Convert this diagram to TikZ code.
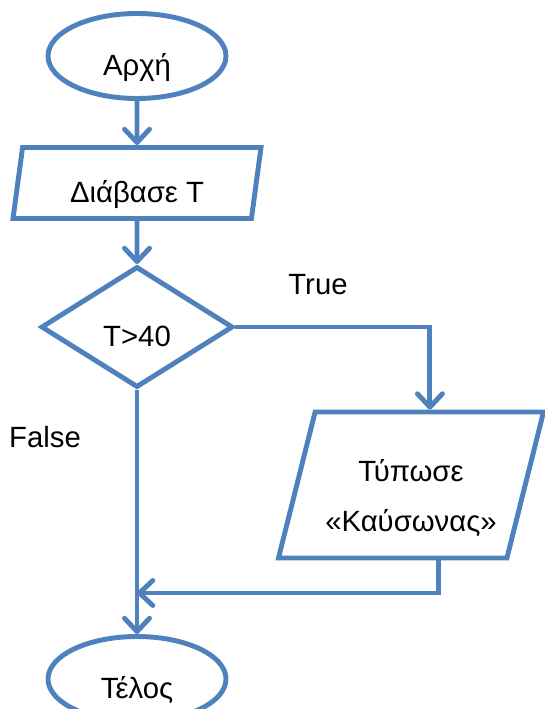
\documentclass[tikz,border=0pt]{standalone}
\usepackage{fontspec}
\setmainfont{Liberation Sans}
\usetikzlibrary{shapes.geometric,arrows.meta,calc}
\definecolor{flowblue}{RGB}{79,129,189}

\begin{document}
\begin{tikzpicture}[x=0.03cm, y=-0.03cm,
  base/.style={draw=flowblue, line width=4.2pt, fill=white, inner sep=0pt, font=\fontsize{25}{43}\selectfont, text height=1.15cm, text depth=0pt},
  term/.style={base, ellipse, minimum width=5.34cm, minimum height=2.55cm},
  io/.style={base, trapezium, trapezium left angle=76, trapezium right angle=104, trapezium stretches body},
  cond/.style={base, diamond, minimum width=5.76cm, minimum height=3.63cm},
  arr/.style={draw=flowblue, line width=4.2pt, -{Straight Barb[length=0.4cm,width=0.75cm,round]}},
  lbl/.style={font=\fontsize{25}{30}\selectfont},
]
\useasboundingbox (0,0) rectangle (545,709);

% main column
\node[term] (start) at (137,56) {Αρχή};
\node[io, minimum width=7.44cm, minimum height=2.13cm] (read) at (137,183) {Διάβασε Τ};
\node[cond] (test) at (137,327) {Τ>40};
\node[term] (stop) at (137,679) {Τέλος};

% true branch
\node[io, trapezium left angle=70.5, trapezium right angle=109.5, minimum width=7.95cm, minimum height=4.38cm, align=center, text height=2.95cm, text depth=] (print) at (411,485) {Τύπωσε\\«Καύσωνας»};
\coordinate (merge) at (137,593);

\node[lbl] (ltrue) at (318,285) {True};
\node[lbl] (lfalse) at (45,437) {False};

\draw[arr] (start) -- (read);
\draw[arr] (read) -- (test);
\draw[arr] (test.east) -| (print.top side);
\draw[arr] ($(print.bottom side)+(46,0)$) |- (merge);
\draw[arr] (test) -- (stop);
\end{tikzpicture}
\end{document}
